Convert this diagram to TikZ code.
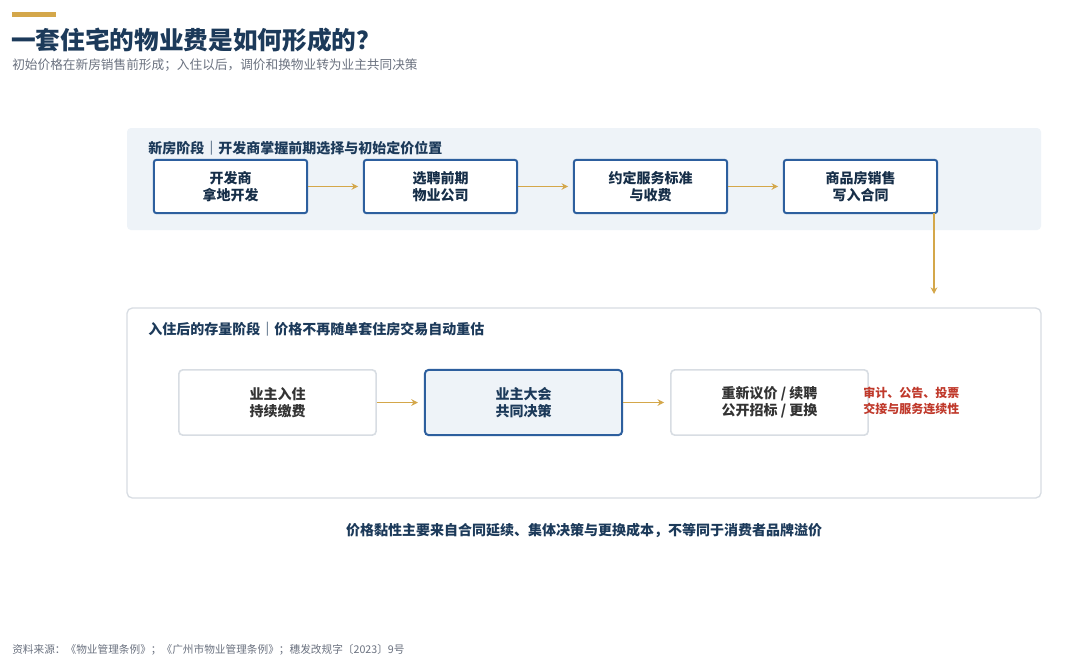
\documentclass[tikz,border=0pt]{standalone}
\usepackage{fontspec}
\setmainfont{Noto Sans CJK SC}
\usetikzlibrary{arrows.meta}
\definecolor{navy}{HTML}{1C3A5A}
\definecolor{gold}{HTML}{D4A74A}
\definecolor{bblue}{HTML}{2D5F9E}
\definecolor{pale}{HTML}{EEF3F8}
\definecolor{gline}{HTML}{D8DDE3}
\definecolor{rtext}{HTML}{C0392B}
\definecolor{gtext}{HTML}{6B7280}
\begin{document}
\begin{tikzpicture}[x=0.75pt,y=-0.75pt,
  box/.style={draw=bblue,line width=1.5pt,fill=white,rounded corners=2pt,minimum width=115pt,minimum height=40pt,align=center,font=\fontsize{10.5}{12.5}\selectfont\bfseries,text=navy!80!black,inner sep=0pt},
  sbox/.style={draw=gline,line width=1.2pt,fill=white,rounded corners=3pt,minimum width=148pt,minimum height=49pt,align=center,font=\fontsize{10.5}{13}\selectfont\bfseries,text=black!80,inner sep=0pt},
  arr/.style={draw=gold,line width=1.3pt,-{Stealth[length=5pt,width=5pt]}},
  hdr/.style={anchor=west,font=\fontsize{10.5}{12}\selectfont\bfseries,text=navy,inner sep=0pt}]
\useasboundingbox (0,0) rectangle (1080,669);
\fill[white] (0,0) rectangle (1080,669);
\fill[gold] (12,12) rectangle (56,16.5);
\node[anchor=west,inner sep=0pt,font=\fontsize{18.5}{20}\selectfont\bfseries,text=navy] (title) at (11,40) {一套住宅的物业费是如何形成的？};
\node[anchor=west,inner sep=0pt,font=\fontsize{9.5}{11}\selectfont,text=gtext] (sub) at (12,65) {初始价格在新房销售前形成；入住以后，调价和换物业转为业主共同决策};
% panel 1
\fill[pale,rounded corners=3pt] (127,128) rectangle (1041,230);
\node[hdr] (h1) at (148,148) {新房阶段｜开发商掌握前期选择与初始定价位置};
\node[box] (a1) at (230.5,186.5) {开发商\\拿地开发};
\node[box] (a2) at (440.5,186.5) {选聘前期\\物业公司};
\node[box] (a3) at (650.5,186.5) {约定服务标准\\与收费};
\node[box] (a4) at (860.5,186.5) {商品房销售\\写入合同};
\draw[arr] (a1.east) -- ++(50,0);
\draw[arr] (a2.east) -- ++(50,0);
\draw[arr] (a3.east) -- ++(50,0);
\coordinate (down) at (934,294);
\draw[arr] (934,213) -- (down);
% panel 2
\draw[gline,line width=1pt,fill=white,rounded corners=4pt] (127,308) rectangle (1041,498);
\node[hdr] (h2) at (148,329) {入住后的存量阶段｜价格不再随单套住房交易自动重估};
\node[sbox] (b1) at (277.5,402.5) {业主入住\\持续缴费};
\node[sbox,fill=pale,draw=bblue,line width=1.5pt,text=navy] (b2) at (523.5,402.5) {业主大会\\共同决策};
\node[sbox] (b3) at (769.5,402.5) {重新议价 / 续聘\\公开招标 / 更换};
\draw[arr] (b1.east) -- ++(41,0);
\draw[arr] (b2.east) -- ++(41,0);
\node[anchor=west,inner sep=0pt,align=left,font=\fontsize{9}{11.5}\selectfont\bfseries,text=rtext] (note) at (863,401) {审计、公告、投票\\交接与服务连续性};
\node[inner sep=0pt,font=\fontsize{10.5}{12}\selectfont\bfseries,text=navy] (concl) at (584,530) {价格黏性主要来自合同延续、集体决策与更换成本，不等同于消费者品牌溢价};
\node[anchor=west,inner sep=0pt,font=\fontsize{8}{10}\selectfont,text=gtext] (src) at (12,650) {资料来源：《物业管理条例》；《广州市物业管理条例》；穗发改规字〔2023〕9号};
\end{tikzpicture}
\end{document}
